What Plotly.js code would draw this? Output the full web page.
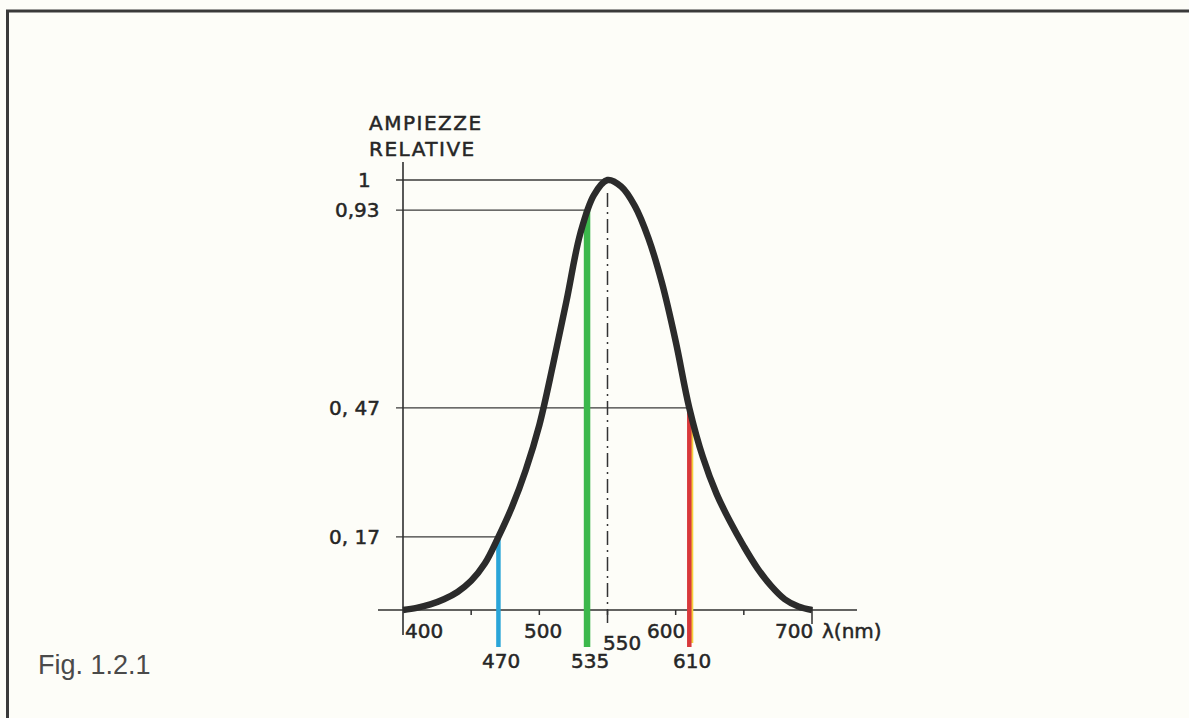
<!DOCTYPE html>
<html>
<head>
<meta charset="utf-8">
<script src="https://cdn.plot.ly/plotly-3.0.1.min.js"></script>
<style>
  html, body { margin: 0; padding: 0; background: #fdfdf8; }
  #chart { width: 1189px; height: 718px; }
</style>
</head>
<body>
<div id="chart"></div>
<script>
// Relative luminous amplitude versus wavelength (nm)
const wavelengths = [400, 410, 420, 430, 440, 450, 460, 470, 480, 490, 500, 510, 520, 530, 540, 550,
                     560, 570, 580, 590, 600, 610, 620, 630, 640, 650, 660, 670, 680, 690, 700];
const amplitudes  = [0, 0.005, 0.013, 0.025, 0.042, 0.068, 0.108, 0.17, 0.24, 0.325, 0.43, 0.57, 0.72, 0.875, 0.965, 1.0,
                     0.985, 0.94, 0.865, 0.76, 0.625, 0.47, 0.355, 0.27, 0.205, 0.148, 0.097, 0.056, 0.025, 0.008, 0];

// Marked wavelengths (blue, green, red) and their amplitudes
const markNm     = [470, 535, 610];
const markAmp    = [0.17, 0.93, 0.47];
const markLabels = ['470', '535', '610'];

// Reference amplitude levels and where each meets the curve
const levels      = [1, 0.93, 0.47, 0.17];
const levelEndsNm = [551, 535, 610, 470];
const levelLabels = ['1', '0,93', '0, 47', '0, 17'];

// Wavelength axis ticks and labels
const xTicks      = [450, 500, 550, 600, 650, 700];
const xLabelVals  = [400, 500, 600, 700];
const xLabelText  = ['400', '500', '600', '700'];
const peakMarkNm  = 550;

// ---- page geometry ----
const W = 1189, H = 718;
const px400 = 403, px700 = 812;     // horizontal pixel of 400 nm and 700 nm
const pxZero = 610, pxOne = 180;    // vertical pixel of amplitude 0 and 1
const nmPerPx  = 300 / (px700 - px400);
const ampPerPx = 1 / (pxZero - pxOne);
const xRange = [400 - px400 * nmPerPx, 400 + (W - px400) * nmPerPx];
const yRange = [-(H - pxZero) * ampPerPx, pxZero * ampPerPx];
const dx = p => p * nmPerPx;
const dy = p => p * ampPerPx;

const ink = '#2f2f2f';
const traces = [];

// reference level lines (start with a short tick left of the axis)
{
  const xs = [], ys = [];
  levels.forEach((lv, i) => { xs.push(400 - dx(7), levelEndsNm[i], null); ys.push(lv, lv, null); });
  traces.push({ x: xs, y: ys, mode: 'lines', line: { color: '#3a3a3a', width: 1.3 } });
}

// axis lines
traces.push({ x: [400 - dx(25), 700 + dx(45)], y: [0, 0], mode: 'lines', line: { color: ink, width: 1.6 } });
traces.push({ x: [400, 400], y: [-dy(25), 1 + dy(18)], mode: 'lines', line: { color: ink, width: 1.6 } });

// wavelength ticks
{
  const xs = [], ys = [];
  xTicks.forEach(t => {
    const long = t === 700;
    xs.push(t, t, null);
    ys.push(long ? dy(3) : 0, long ? -dy(14) : -dy(5), null);
  });
  traces.push({ x: xs, y: ys, mode: 'lines', line: { color: ink, width: 1.5 } });
}

// dash-dot peak marker
traces.push({ x: [peakMarkNm, peakMarkNm], y: [-dy(13), 0.97], mode: 'lines',
              line: { color: '#333', width: 1.5, dash: '14px,5px,2px,5px' } });

// coloured wavelength stems
const stemBottom = -dy(37);
traces.push({ x: [markNm[0], markNm[0]], y: [stemBottom, markAmp[0]], mode: 'lines', line: { color: '#2aa5d8', width: 4.5 } });
traces.push({ x: [markNm[1], markNm[1]], y: [stemBottom, markAmp[1]], mode: 'lines', line: { color: '#3cb84c', width: 6.5 } });
traces.push({ x: [markNm[2] + dx(2.5), markNm[2] + dx(2.5)], y: [stemBottom + dy(4), markAmp[2] - dy(6)], mode: 'lines', line: { color: '#f5d03c', width: 3 } });
traces.push({ x: [markNm[2], markNm[2]], y: [stemBottom, markAmp[2]], mode: 'lines', line: { color: '#d8393b', width: 4.5 } });

// luminosity curve
traces.push({ x: wavelengths, y: amplitudes, mode: 'lines',
              line: { color: '#2b2b2b', width: 6.5, shape: 'spline', smoothing: 1 } });

const techFont = { family: 'DejaVu Sans', size: 20, color: '#262626' };
const annotations = [];

// amplitude labels
levels.forEach((lv, i) => {
  annotations.push({ x: 400, y: lv, xref: 'x', yref: 'y', text: levelLabels[i], showarrow: false,
                     xanchor: 'right', yanchor: 'middle', xshift: lv === 1 ? -30 : -21, font: techFont });
});

// wavelength axis labels
const xLabelShift = { 400: 21, 500: 4, 600: -10, 700: -18 };
xLabelVals.forEach((v, i) => {
  annotations.push({ x: v, y: -dy(21), xref: 'x', yref: 'y', text: xLabelText[i], showarrow: false,
                     xanchor: 'center', yanchor: 'middle', xshift: xLabelShift[v], font: techFont });
});
annotations.push({ x: peakMarkNm, y: -dy(33), xref: 'x', yref: 'y', text: String(peakMarkNm), showarrow: false,
                   xanchor: 'center', yanchor: 'middle', xshift: 14, font: techFont });
markNm.forEach((v, i) => {
  annotations.push({ x: v, y: -dy(51), xref: 'x', yref: 'y', text: markLabels[i], showarrow: false,
                     xanchor: 'center', yanchor: 'middle', xshift: 3, font: techFont });
});
annotations.push({ x: 700, y: -dy(21), xref: 'x', yref: 'y', text: 'λ(nm)', showarrow: false,
                   xanchor: 'left', yanchor: 'middle', xshift: 8, font: techFont });

// axis title
annotations.push({ x: 367 / W, y: 1 - 136 / H, xref: 'paper', yref: 'paper', text: 'AMPIEZZE<br>RELATIVE',
                   showarrow: false, xanchor: 'left', yanchor: 'middle', align: 'left',
                   font: techFont });

// figure caption
annotations.push({ x: 36 / W, y: 1 - 665 / H, xref: 'paper', yref: 'paper', text: 'Fig. 1.2.1',
                   showarrow: false, xanchor: 'left', yanchor: 'middle',
                   font: { family: 'Liberation Sans', size: 27, color: '#4a4a4a' } });

const layout = {
  width: W, height: H,
  margin: { l: 0, r: 0, t: 0, b: 0 },
  paper_bgcolor: '#fdfdf8', plot_bgcolor: '#fdfdf8',
  showlegend: false, hovermode: false,
  xaxis: { range: xRange, visible: false, fixedrange: true },
  yaxis: { range: yRange, visible: false, fixedrange: true },
  annotations: annotations,
  shapes: [
    { type: 'line', xref: 'paper', yref: 'paper', x0: 7.5 / W, x1: 7.5 / W, y0: 0, y1: 1 - 10 / H,
      line: { color: '#3a3a3a', width: 3 } },
    { type: 'line', xref: 'paper', yref: 'paper', x0: 6 / W, x1: 1, y0: 1 - 11 / H, y1: 1 - 11 / H,
      line: { color: '#3a3a3a', width: 3 } }
  ]
};

Plotly.newPlot('chart', traces, layout, { staticPlot: true, displayModeBar: false }).then(gd => {
  gd.querySelectorAll('.annotation-text').forEach(t => {
    const txt = t.textContent;
    if (txt.indexOf('Fig.') === 0) return;
    // pen-drawn lettering: slightly heavier strokes
    t.setAttribute('stroke', '#262626');
    t.setAttribute('stroke-width', '0.5');
    // widen the lettering of the axis title
    if (txt.indexOf('AMPIEZZE') === 0) t.setAttribute('letter-spacing', '1.5px');
  });
});
</script>
</body>
</html>
